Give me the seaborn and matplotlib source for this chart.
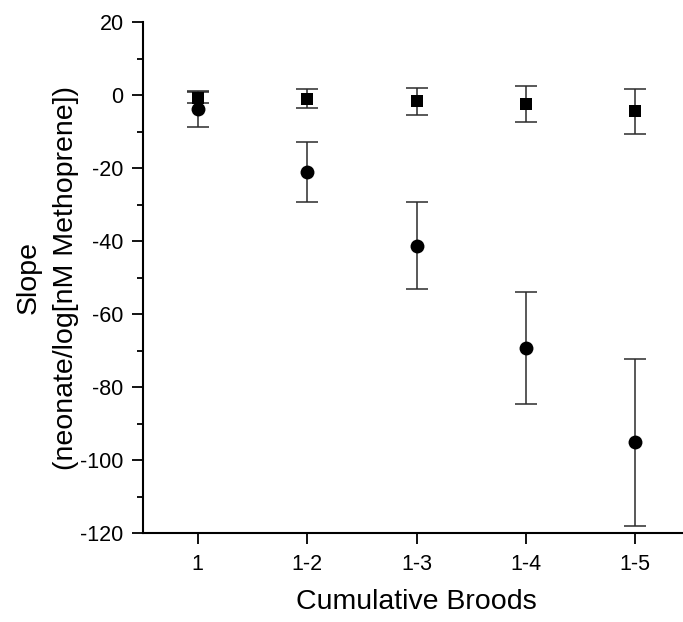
import matplotlib
matplotlib.use("Agg")
import matplotlib.pyplot as plt
from matplotlib.ticker import MultipleLocator
import numpy as np
import pandas as pd
import seaborn as sns

# ---- data ----
categories = ["1", "1-2", "1-3", "1-4", "1-5"]
square_mean = [-0.7, -1.0, -1.7, -2.5, -4.5]
square_err = [1.6, 2.6, 3.7, 4.85, 6.2]
circle_mean = [-3.9, -21.1, -41.3, -69.3, -95.2]
circle_err = [4.9, 8.2, 11.9, 15.4, 23.0]
y_ticks = [20, 0, -20, -40, -60, -80, -100, -120]

sns.set_theme(style="ticks")
plt.rcParams["font.family"] = ["Liberation Sans", "DejaVu Sans"]
plt.rcParams["axes.unicode_minus"] = False

df = pd.DataFrame({
    "pos": list(range(len(categories))) * 2,
    "slope": square_mean + circle_mean,
    "err": square_err + circle_err,
    "series": ["square"] * len(categories) + ["circle"] * len(categories),
})

W, H = 683, 622
fig = plt.figure(figsize=(W / 100, H / 100), dpi=100)
left, right, bottom, top = 143, 690, 533, 22
ax = fig.add_axes([left / W, 1 - bottom / H, (right - left) / W, (bottom - top) / H])

for name, marker, size in [("square", "s", 82), ("circle", "o", 100)]:
    sub = df[df["series"] == name]
    ax.errorbar(sub["pos"], sub["slope"], yerr=sub["err"], fmt="none",
                ecolor="#2b2b2b", elinewidth=1.1, capsize=8, capthick=1.1, zorder=2)
    sns.scatterplot(data=sub, x="pos", y="slope", marker=marker, s=size,
                    color="black", linewidth=0, ax=ax, zorder=3, legend=False)

ax.set_xlim(-0.5, 4.5)
ax.set_ylim(-120, 20)
ax.set_xticks(range(len(categories)))
ax.set_xticklabels(categories)
ax.set_yticks(y_ticks)
ax.yaxis.set_minor_locator(MultipleLocator(10))

for s in ["top", "right"]:
    ax.spines[s].set_visible(False)
for s in ["left", "bottom"]:
    ax.spines[s].set_linewidth(1.5)
    ax.spines[s].set_color("black")

ax.tick_params(axis="both", which="major", direction="out", length=8, width=1.3,
               labelsize=15.5, color="black", labelcolor="black")
ax.tick_params(axis="y", which="major", pad=6)
ax.tick_params(axis="x", which="major", pad=7)
ax.tick_params(axis="y", which="minor", direction="out", length=4.5, width=1.3, color="black")

ax.set_xlabel("Cumulative Broods", fontsize=20.5, labelpad=10, color="black")
ax.set_ylabel("Slope\n(neonate/log[nM Methoprene])", fontsize=20.5, labelpad=1,
              color="black", linespacing=1.55)

fig.savefig("out.png", dpi=100, facecolor="white")
